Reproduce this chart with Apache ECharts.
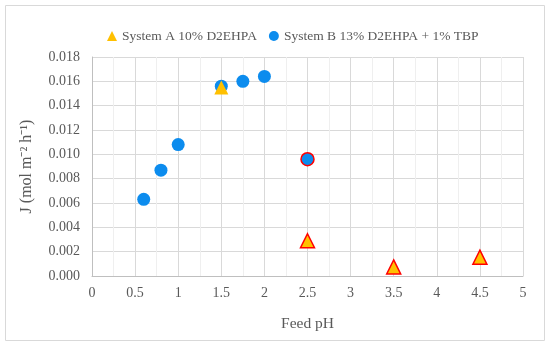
<!DOCTYPE html>
<html><head><meta charset="utf-8">
<script src="https://cdn.jsdelivr.net/npm/echarts@6/dist/echarts.min.js"></script>
<style>html,body{margin:0;padding:0;background:#fff}#c{width:550px;height:346px;position:relative}</style>
</head><body><div id="c"></div>
<script>
var seriesNames = ['System A 10% D2EHPA', 'System B 13% D2EHPA + 1% TBP'];
var phA = [1.5, 2.5, 3.5, 4.5];
var jA = [0.0155, 0.0029, 0.00075, 0.00155];
var hlA = [false, true, true, true];
var phB = [0.6, 0.8, 1.0, 1.5, 1.75, 2.0, 2.5];
var jB = [0.0063, 0.0087, 0.0108, 0.0156, 0.0160, 0.0164, 0.0096];
var hlB = [false, false, false, false, false, false, true];
var xTitle = 'Feed pH';
var yTitle = 'J (mol m\u207B\u00B2 h\u207B\u00B9)';

var font = 'Liberation Serif';
var txt = '#595959';
var chart = echarts.init(document.getElementById('c'));
function pts(xs, ys, hl) {
  return xs.map(function (x, i) {
    var d = {value: [x, ys[i]]};
    if (hl[i]) d.itemStyle = {borderColor: '#FF0000', borderWidth: 1.5};
    return d;
  });
}
chart.setOption({
  animation: false,
  graphic: [{type: 'rect', shape: {x: 5.5, y: 5.5, width: 539, height: 335}, style: {fill: 'none', stroke: '#D9D9D9', lineWidth: 1}}],
  legend: {
    top: 24, left: 102, itemGap: 12, itemWidth: 10, itemHeight: 10,
    textStyle: {fontFamily: font, fontSize: 13.5, color: txt},
    data: [{name: seriesNames[0], icon: 'triangle'}, {name: seriesNames[1], icon: 'circle'}]
  },
  grid: {left: 92, right: 27, top: 57, bottom: 70},
  xAxis: {
    type: 'value', min: 0, max: 5, interval: 0.5,
    name: xTitle, nameLocation: 'middle', nameGap: 40,
    nameTextStyle: {fontFamily: font, fontSize: 15.5, color: txt},
    axisLine: {show: true, lineStyle: {color: '#BFBFBF'}},
    axisTick: {show: false},
    axisLabel: {fontFamily: font, fontSize: 14, color: txt, margin: 10},
    splitLine: {show: true, lineStyle: {color: '#D9D9D9'}},
    minorTick: {show: false, splitNumber: 2},
    minorSplitLine: {show: true, lineStyle: {color: '#EFEFEF'}}
  },
  yAxis: {
    type: 'value', min: 0, max: 0.018, interval: 0.002,
    name: yTitle, nameLocation: 'middle', nameGap: 57, nameRotate: 90,
    nameTextStyle: {fontFamily: font, fontSize: 16, color: txt},
    axisLine: {show: true, lineStyle: {color: '#BFBFBF'}},
    axisTick: {show: false},
    axisLabel: {fontFamily: font, fontSize: 14, color: txt, margin: 12, formatter: function (v) { return v.toFixed(3); }},
    splitLine: {show: true, lineStyle: {color: '#D9D9D9'}}
  },
  series: [
    {name: seriesNames[0], type: 'scatter', symbol: 'triangle', symbolSize: 14, z: 3,
     itemStyle: {color: '#FFC000', opacity: 1}, data: pts(phA, jA, hlA)},
    {name: seriesNames[1], type: 'scatter', symbol: 'circle', symbolSize: 13, z: 2,
     itemStyle: {color: '#0C8CEE', opacity: 1}, data: pts(phB, jB, hlB)}
  ]
});
</script></body></html>
